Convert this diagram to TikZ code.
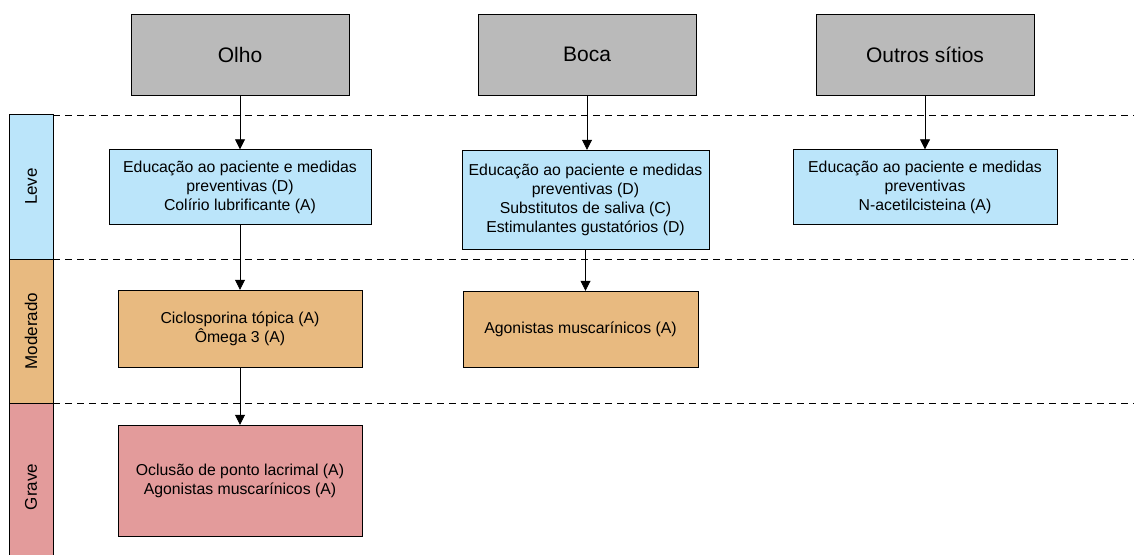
\documentclass[tikz,border=0pt]{standalone}
\usepackage{fontspec}
\setmainfont{Liberation Sans}
\usetikzlibrary{arrows.meta}
\definecolor{headgray}{HTML}{BABABA}
\definecolor{leveblue}{HTML}{BBE5FA}
\definecolor{modorange}{HTML}{E8BA80}
\definecolor{gravered}{HTML}{E39B9B}
\begin{document}
\begin{tikzpicture}
         [x=1pt, y=-1pt,
          head node/.style={rectangle,draw,fill=headgray,minimum width=218pt,minimum height=81pt,font=\fontsize{21}{24}\selectfont},
          box node/.style={rectangle,draw,align=center,font=\fontsize{15.8}{19}\selectfont,inner sep=0pt},
          band node/.style={rectangle,draw,rotate=90,minimum height=44pt,font=\fontsize{17}{20}\selectfont},
          sep line/.style={dashed,dash pattern=on 7pt off 5pt},
          link/.style={-{Triangle[width=10pt,length=10pt]},line width=0.8pt}]
         \useasboundingbox (0,0) rectangle (1134,554);

         % severity bands
         \node[band node, fill=leveblue, minimum width=145pt] (leve) at (31,186.5) {Leve};
         \node[band node, fill=modorange, minimum width=144pt] (moderado) at (31,331) {Moderado};
         \node[band node, fill=gravered, minimum width=168pt] (grave) at (31,487) {Grave};
         \draw[sep line] (53,115) -- (1134,115);
         \draw[sep line] (53,259) -- (1134,259);
         \draw[sep line] (53,403) -- (1134,403);

         % sites
         \node[head node] (olho) at (240,54.5) {Olho};
         \node[head node] (boca) at (587,54.5) {Boca};
         \node[head node] (outros) at (925,54.5) {Outros sítios};

         \node[box node, fill=leveblue, minimum width=262pt, minimum height=75pt] (olholeve) at (240,187)
            {Educação ao paciente e medidas\\preventivas (D)\\Colírio lubrificante (A)};
         \node[box node, fill=modorange, minimum width=244pt, minimum height=77pt] (olhomod) at (240,328.5)
            {Ciclosporina tópica (A)\\Ômega 3 (A)};
         \node[box node, fill=gravered, minimum width=244pt, minimum height=111pt] (olhograve) at (240,480.5)
            {Oclusão de ponto lacrimal (A)\\Agonistas muscarínicos (A)};

         \node[box node, fill=leveblue, minimum width=247pt, minimum height=99pt] (bocaleve) at (585.5,199.5)
            {Educação ao paciente e medidas\\preventivas (D)\\Substitutos de saliva (C)\\Estimulantes gustatórios (D)};
         \node[box node, fill=modorange, minimum width=235pt, minimum height=76pt] (bocamod) at (580.5,329)
            {Agonistas muscarínicos (A)};

         \node[box node, fill=leveblue, minimum width=264pt, minimum height=75pt] (outrosleve) at (925,187)
            {Educação ao paciente e medidas\\preventivas\\N-acetilcisteina (A)};

         \draw[link] (olho) -- (olholeve);
         \draw[link] (olholeve) -- (olhomod);
         \draw[link] (olhomod) -- (olhograve);
         \draw[link] (boca.south) -- (boca.south |- bocaleve.north);
         \draw[link] (bocaleve.south) -- (bocaleve.south |- bocamod.north);
         \draw[link] (outros) -- (outrosleve);
      \end{tikzpicture}
\end{document}
